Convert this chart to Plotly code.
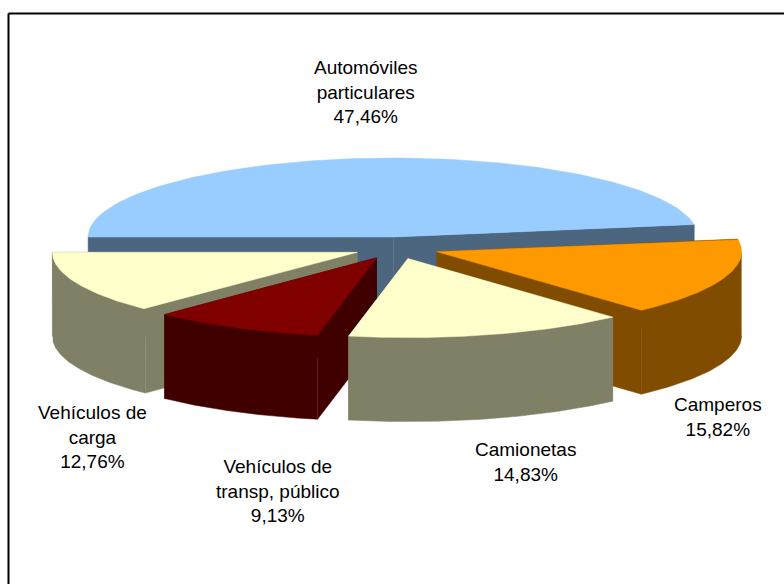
"""
Pie 3D con porciones separadas: plotly no tiene pie 3D, se proyecta cada porcion como elipse.
"""

import numpy as np
import plotly.graph_objects as go

categories = ['Automóviles<br>particulares', 'Camperos', 'Camionetas',
              'Vehículos de<br>transp. público', 'Vehículos de<br>carga']
values = [47.46, 15.82, 14.83, 9.13, 12.76]
top_colors = ['#99CCFF', '#FF9900', '#FFFFCC', '#800000', '#FFFFCC']
side_colors = ['#4D6680', '#804D00', '#808066', '#400000', '#808066']

WIDTH, HEIGHT = 784, 584
CX, CY = 396.5, 248      # centre of the pie, px
RX, RY = 305, 79         # ellipse radii
DEPTH = 84
EXPLODE = 42.5
END_ANGLE = -180         # slices run clockwise and the last one ends here

LABEL_POS = [(366, 92), (718, 417), (525, 462), (278, 491), (92, 437)]


def rim(ax, ay, a0, a1, dy=0):
    t = np.radians(np.linspace(a0, a1, 120))
    return ax + RX * np.cos(t), ay - RY * np.sin(t) + dy


def poly(x, y, color):
    return go.Scatter(x=x, y=y, mode='lines', fill='toself', fillcolor=color,
                      line=dict(color=color, width=0.5), hoverinfo='skip', showlegend=False)


def slice_traces(a0, a1, top, side):
    mid = np.radians((a0 + a1) / 2)
    ax = CX + EXPLODE * np.cos(mid)
    ay = CY - EXPLODE * RY / RX * np.sin(mid)
    traces = []
    # cut faces
    for a in (a0, a1):
        ex, ey = rim(ax, ay, a, a)
        traces.append(poly([ax, ex[0], ex[0], ax], [ay, ey[0], ey[0] + DEPTH, ay + DEPTH], side))
    # outer wall, only the part turned to the viewer
    w0, w1 = min(a0, 0), a1
    if w0 > w1:
        x_t, y_t = rim(ax, ay, w0, w1)
        x_b, y_b = rim(ax, ay, w0, w1, DEPTH)
        traces.append(poly(np.r_[x_t, x_b[::-1]], np.r_[y_t, y_b[::-1]], side))
    # top
    x_t, y_t = rim(ax, ay, a0, a1)
    traces.append(poly(np.r_[ax, x_t, ax], np.r_[ay, y_t, ay], top))
    return traces, np.sin(mid)


fig = go.Figure()

# angles from the values, clockwise
ends = END_ANGLE + np.cumsum(values[::-1])[::-1] * 360 / sum(values)
starts = ends
stops = np.r_[ends[1:], END_ANGLE]
# first slice goes over the top, from its start counter-clockwise to -180 + 360
parts = []
for i in range(len(values)):
    if i == 0:
        a0, a1 = stops[0] + 360 * values[0] / sum(values), stops[0]
    else:
        a0, a1 = starts[i], stops[i]
    parts.append(slice_traces(a0, a1, top_colors[i], side_colors[i]))

# back to front
for traces, depth in sorted(parts, key=lambda p: -p[1]):
    for tr in traces:
        fig.add_trace(tr)

for name, val, (lx, ly) in zip(categories, values, LABEL_POS):
    fig.add_annotation(x=lx, y=ly, text=f"{name}<br>{val:.2f}%".replace('.', ','),
                       showarrow=False, align='center',
                       font=dict(family='Liberation Sans', size=19, color='black'))

# chart border, only top and left reach the picture
fig.add_shape(type='line', x0=8.5, x1=WIDTH, y0=13.5, y1=13.5, line=dict(color='black', width=2))
fig.add_shape(type='line', x0=8.5, x1=8.5, y0=13.5, y1=HEIGHT, line=dict(color='black', width=2))

fig.update_xaxes(range=[0, WIDTH], visible=False, fixedrange=True)
fig.update_yaxes(range=[HEIGHT, 0], visible=False, fixedrange=True)
fig.update_layout(width=WIDTH, height=HEIGHT, margin=dict(l=0, r=0, t=0, b=0),
                  paper_bgcolor='white', plot_bgcolor='white', showlegend=False)

fig.write_html("out.html", config={'displayModeBar': False},
               post_script="document.body.style.margin='0';")
